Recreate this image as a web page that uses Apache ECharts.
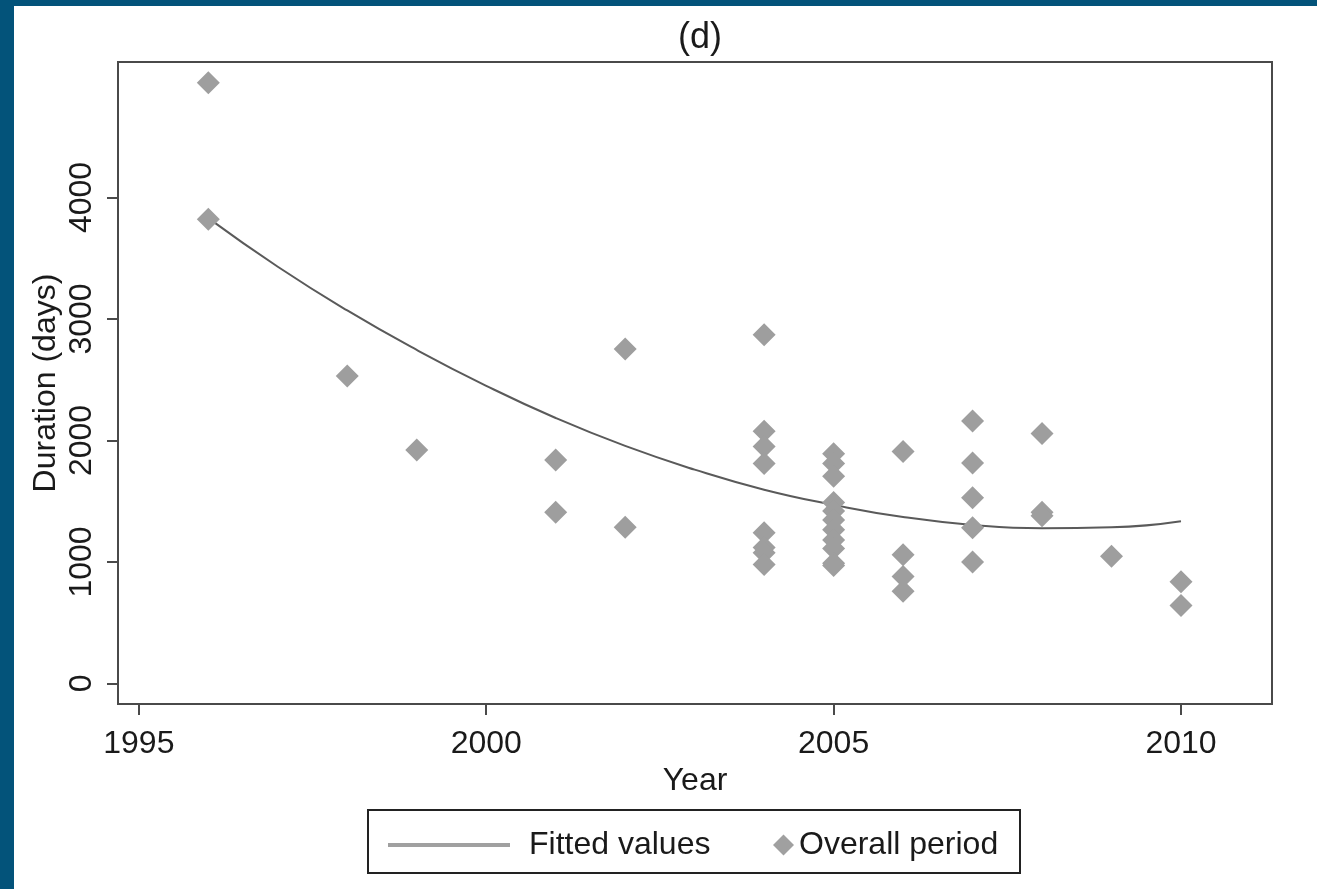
<!DOCTYPE html>
<html>
<head>
<meta charset="utf-8">
<script src="https://cdn.jsdelivr.net/npm/echarts@6/dist/echarts.min.js"></script>
<style>
  html, body { margin: 0; padding: 0; width: 1317px; height: 889px; background: #03537a; overflow: hidden; }
  #chart { position: absolute; left: 14px; top: 6px; width: 1303px; height: 883px; background: #ffffff; }
</style>
</head>
<body>
<div id="chart"></div>
<script>
// ---- data ----
const scatterYears = [
  1996, 1996,
  1998,
  1999,
  2001, 2001,
  2002, 2002,
  2004, 2004, 2004, 2004, 2004, 2004, 2004, 2004,
  2005, 2005, 2005, 2005, 2005, 2005, 2005, 2005, 2005, 2005, 2005,
  2006, 2006, 2006, 2006,
  2007, 2007, 2007, 2007, 2007,
  2008, 2008, 2008,
  2009,
  2010, 2010
];
const scatterDurations = [
  4945, 3820,
  2531,
  1922,
  1840, 1409,
  2753, 1286,
  2870, 2075, 1950, 1810, 1240, 1120, 1075, 980,
  1890, 1810, 1705, 1490, 1420, 1345, 1265, 1180, 1110, 990, 970,
  1910, 1060, 880, 760,
  2160, 1815, 1528, 1281, 999,
  2058, 1410, 1380,
  1048,
  837, 642
];
const fitYears  = [1996, 1997, 1998, 1999, 2000, 2001, 2002, 2003, 2004, 2005, 2006, 2007, 2008, 2009, 2010];
const fitValues = [3830, 3430, 3070, 2745, 2450, 2185, 1955, 1760, 1595, 1470, 1370, 1305, 1278, 1285, 1335];
const xTicks = [1995, 2000, 2005, 2010];
const yTicks = [0, 1000, 2000, 3000, 4000];
const titleText = '(d)';
const xName = 'Year';
const yName = 'Duration (days)';
const fitName = 'Fitted values';
const scatterName = 'Overall period';

const scatterData = scatterYears.map((y, i) => [y, scatterDurations[i]]);
const fitData = fitYears.map((y, i) => [y, fitValues[i]]);

const FONT = "'Liberation Sans', Arial, Helvetica, sans-serif";
const TXT = '#1a1a1a';
const AX = '#4a4a4a';
const plain = v => String(Math.round(v));

const chart = echarts.init(document.getElementById('chart'), null, { renderer: 'canvas' });
chart.setOption({
  animation: false,
  backgroundColor: '#ffffff',
  textStyle: { fontFamily: FONT },
  title: {
    text: titleText,
    left: 681,
    textAlign: 'center',
    top: 9,
    textStyle: { fontFamily: FONT, fontSize: 36, fontWeight: 'normal', color: TXT }
  },
  grid: {
    left: 104, top: 56, right: 45, bottom: 185,
    containLabel: false,
    outerBoundsMode: 'none',
    show: true, borderColor: AX, borderWidth: 2, backgroundColor: '#ffffff'
  },
  xAxis: {
    type: 'value',
    min: 1994.7, max: 2011.31,
    name: xName, nameLocation: 'middle', nameGap: 55,
    nameTextStyle: { fontFamily: FONT, fontSize: 32, color: TXT },
    axisLine: { show: true, onZero: false, lineStyle: { color: AX, width: 2 } },
    axisTick: { show: true, length: 11, inside: false, customValues: xTicks, lineStyle: { color: AX, width: 2 } },
    axisLabel: { customValues: xTicks, formatter: plain, fontFamily: FONT, fontSize: 32, color: TXT, margin: 24 },
    splitLine: { show: false }
  },
  yAxis: {
    type: 'value',
    min: -169, max: 5115,
    name: yName, nameLocation: 'middle', nameGap: 56, nameRotate: 90,
    nameMoveOverlap: false,
    nameTextStyle: { fontFamily: FONT, fontSize: 32, color: TXT },
    axisLine: { show: true, onZero: false, lineStyle: { color: AX, width: 2 } },
    axisTick: { show: true, length: 11, inside: false, customValues: yTicks, lineStyle: { color: AX, width: 2 } },
    axisLabel: { customValues: yTicks, formatter: plain, rotate: 90, fontFamily: FONT, fontSize: 32, color: TXT, margin: 20 },
    splitLine: { show: false }
  },
  legend: [
    {
      data: [fitName],
      left: 369, top: 816,
      itemWidth: 122, itemHeight: 20,
      icon: 'path://M0,0 L122,0 L122,4 L0,4 Z',
      itemStyle: { color: '#a0a0a0' },
      textStyle: { fontFamily: FONT, fontSize: 32, color: TXT, padding: [0, 0, 0, 14], lineHeight: 36 },
      selectedMode: false
    },
    {
      data: [scatterName],
      left: 754, top: 816,
      itemWidth: 21, itemHeight: 21,
      icon: 'diamond',
      itemStyle: { color: '#a0a0a0' },
      textStyle: { fontFamily: FONT, fontSize: 32, color: TXT, padding: [0, 0, 0, 0], lineHeight: 36 },
      selectedMode: false
    }
  ],
  graphic: [
    {
      type: 'rect',
      shape: { x: 354, y: 804, width: 652, height: 63 },
      style: { fill: 'none', stroke: '#222222', lineWidth: 2 },
      z: -1
    }
  ],
  series: [
    {
      name: fitName,
      type: 'line',
      data: fitData,
      smooth: true,
      showSymbol: false,
      symbol: 'none',
      lineStyle: { color: '#5a5a5a', width: 2 },
      itemStyle: { color: '#5a5a5a' },
      z: 2
    },
    {
      name: scatterName,
      type: 'scatter',
      data: scatterData,
      symbol: 'diamond',
      symbolSize: 23,
      itemStyle: { color: '#9e9e9e', opacity: 1 },
      z: 3
    }
  ]
});
</script>
</body>
</html>
